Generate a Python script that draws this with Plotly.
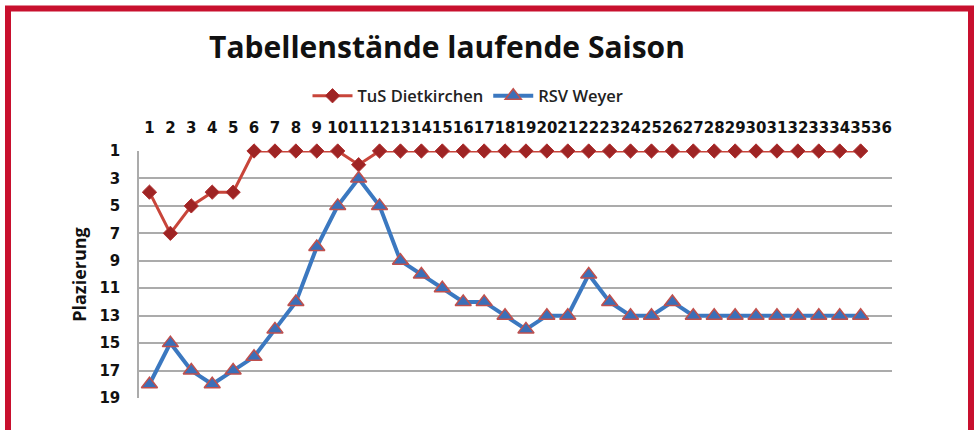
import plotly.graph_objects as go

spieltage = [str(i) for i in range(1, 37)]
tus_dietkirchen = [4, 7, 5, 4, 4, 1, 1, 1, 1, 1, 2, 1, 1, 1, 1, 1, 1, 1, 1, 1,
                   1, 1, 1, 1, 1, 1, 1, 1, 1, 1, 1, 1, 1, 1, 1]
rsv_weyer = [18, 15, 17, 18, 17, 16, 14, 12, 8, 5, 3, 5, 9, 10, 11, 12, 12, 13, 14, 13,
             13, 10, 12, 13, 13, 12, 13, 13, 13, 13, 13, 13, 13, 13, 13]
y_ticks = [1, 3, 5, 7, 9, 11, 13, 15, 17, 19]

W, H = 974, 430
L, R, T, B = 139, 892, 151, 398
pw, ph = R - L, B - T

def px_x(p):
    return (p - L) / pw

def px_y(p):
    return (B - p) / ph

fig = go.Figure()
fig.add_trace(go.Scatter(
    x=spieltage[:len(tus_dietkirchen)], y=tus_dietkirchen, name="TuS Dietkirchen",
    mode="lines+markers", cliponaxis=False,
    line=dict(color="#C8453A", width=3),
    marker=dict(symbol="diamond", size=11, color="#9E2424",
                line=dict(color="#B03030", width=1)),
))
fig.add_trace(go.Scatter(
    x=spieltage[:len(rsv_weyer)], y=rsv_weyer, name="RSV Weyer",
    mode="lines+markers", cliponaxis=False,
    line=dict(color="#3B78C0", width=4),
    marker=dict(symbol="triangle-up", size=14, color="#3B6FB8",
                line=dict(color="#C0504D", width=1.5)),
))

fig.update_layout(
    width=W, height=H,
    margin=dict(l=L, r=W - R, t=T, b=H - B),
    paper_bgcolor="white", plot_bgcolor="white",
    title=dict(text="<b>Tabellenstände laufende Saison</b>",
               font=dict(family="Open Sans", size=30, color="#111111"),
               x=447 / W, xanchor="center", xref="container",
               y=1 - 47 / H, yanchor="middle", yref="container"),
    legend=dict(orientation="h", x=px_x(468), xanchor="center",
                y=px_y(96), yanchor="middle",
                font=dict(family="Open Sans", size=16.5, color="#222222", weight=600),
                bgcolor="rgba(0,0,0,0)", itemwidth=40, tracegroupgap=20),
    xaxis=dict(type="category", categoryorder="array", categoryarray=spieltage,
               tickvals=spieltage, ticktext=spieltage,
               range=[-0.5, 35.5], side="top", showgrid=False, zeroline=False,
               showline=False, ticks="", tickangle=0, ticklabelstandoff=14,
               tickfont=dict(family="DejaVu Sans", size=15, color="#111111", weight="bold")),
    yaxis=dict(range=[19, 1], tickvals=y_ticks, ticktext=[str(v) for v in y_ticks],
               showgrid=True, gridcolor="#ABABAB", gridwidth=1.5, zeroline=False,
               showline=True, linecolor="#ABABAB", linewidth=1.5, ticks="",
               ticklabelstandoff=14,
               tickfont=dict(family="DejaVu Sans", size=15, color="#111111", weight="bold"),
               title=dict(text="<b>Plazierung</b>", standoff=8,
                          font=dict(family="Open Sans", size=18, color="#111111"))),
    showlegend=True,
)

fig.add_shape(type="rect", xref="paper", yref="paper",
              x0=px_x(8), x1=px_x(971), y0=px_y(450), y1=px_y(8.5),
              line=dict(color="#C8102E", width=6), fillcolor="rgba(0,0,0,0)", layer="above")

fig.write_html("out.html", config={"displayModeBar": False},
               post_script="document.body.style.margin='0px';document.body.style.overflow='hidden';")
